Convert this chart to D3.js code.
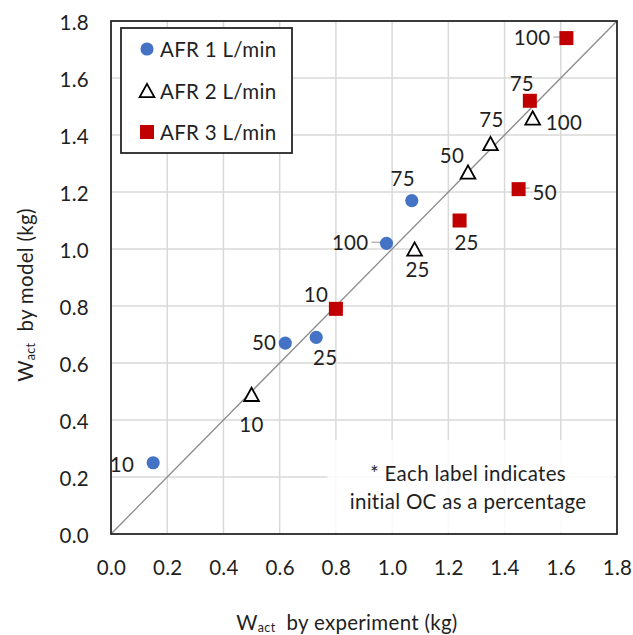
<!DOCTYPE html>
<html>
<head>
<meta charset="utf-8">
<script src="https://cdn.jsdelivr.net/npm/d3@7/dist/d3.min.js"></script>
<style>
  html, body { margin: 0; padding: 0; background: #fff; }
  svg { display: block; font-family: Lato, "Open Sans", sans-serif; letter-spacing: 0.3px; }
</style>
</head>
<body>
<svg id="chart" width="633" height="635"></svg>
<script>
// Initial OC (%) for each measured point
const ocLabels = [10, 25, 50, 75, 100];

// AFR 1 L/min
const afr1Exp   = [0.15, 0.73, 0.62, 1.07, 0.98];
const afr1Model = [0.25, 0.69, 0.67, 1.17, 1.02];

// AFR 2 L/min
const afr2Exp   = [0.50, 1.08, 1.27, 1.35, 1.50];
const afr2Model = [0.49, 1.00, 1.27, 1.37, 1.46];

// AFR 3 L/min
const afr3Exp   = [0.80, 1.24, 1.45, 1.49, 1.62];
const afr3Model = [0.79, 1.10, 1.21, 1.52, 1.74];

const seriesNames = ["AFR 1 L/min", "AFR 2 L/min", "AFR 3 L/min"];
const axisTicks = [0.0, 0.2, 0.4, 0.6, 0.8, 1.0, 1.2, 1.4, 1.6, 1.8];

// Label placement around each marker: [anchor, dx, dy, leader]
const labelPlace = [
  [["end", -19, 1, false], ["middle", 9, 20, false], ["end", -9, -1, false], ["middle", -9, -23, false], ["end", -18, -1, true]],
  [["middle", 0, 30, false], ["middle", 3, 20, false], ["middle", -16, -17, false], ["middle", 1, -25, false], ["start", 13, 4, false]],
  [["middle", -20, -15, false], ["middle", 7, 21, false], ["start", 14, 3, true], ["middle", -8, -18, false], ["end", -16, -1, true]]
];

const series = [
  { name: seriesNames[0], xs: afr1Exp, ys: afr1Model, shape: "circle",   fill: "#4472C4", stroke: "none" },
  { name: seriesNames[1], xs: afr2Exp, ys: afr2Model, shape: "triangle", fill: "#ffffff", stroke: "#000000" },
  { name: seriesNames[2], xs: afr3Exp, ys: afr3Model, shape: "square",   fill: "#C00000", stroke: "none" }
];

const svg = d3.select("#chart");
const plot = { left: 111, right: 617, top: 21, bottom: 534 };

const x = d3.scaleLinear().domain([0, 1.8]).range([plot.left, plot.right]);
const y = d3.scaleLinear().domain([0, 1.8]).range([plot.bottom, plot.top]);

const fontSize = 20.5;
const textColor = "#1f1f1f";

// Gridlines
const grid = svg.append("g");
grid.selectAll("line.gx").data(axisTicks.slice(1, -1)).join("line")
  .attr("x1", d => x(d)).attr("x2", d => x(d))
  .attr("y1", plot.top).attr("y2", plot.bottom)
  .attr("stroke", "#d9d9d9").attr("stroke-width", 1.5);
grid.selectAll("line.gy").data(axisTicks.slice(1, -1)).join("line")
  .attr("y1", d => y(d)).attr("y2", d => y(d))
  .attr("x1", plot.left).attr("x2", plot.right)
  .attr("stroke", "#d9d9d9").attr("stroke-width", 1.5);

// Axes (labels only; ticks hidden)
const xAxis = d3.axisBottom(x).tickValues(axisTicks).tickFormat(d3.format(".1f")).tickSize(0).tickPadding(0);
const yAxis = d3.axisLeft(y).tickValues(axisTicks).tickFormat(d3.format(".1f")).tickSize(0).tickPadding(0);

const gx = svg.append("g").attr("transform", `translate(0,${plot.bottom})`).call(xAxis);
gx.select(".domain").remove();
gx.selectAll("text").attr("y", 0).attr("dy", "0").attr("transform", "translate(0,33)")
  .attr("dominant-baseline", "central")
  .attr("font-size", fontSize).attr("font-family", "Lato, sans-serif").attr("fill", textColor);

const gy = svg.append("g").attr("transform", `translate(${plot.left},0)`).call(yAxis);
gy.select(".domain").remove();
gy.selectAll("text").attr("x", -22).attr("dy", "0")
  .attr("dominant-baseline", "central")
  .attr("font-size", fontSize).attr("font-family", "Lato, sans-serif").attr("fill", textColor);

// 1:1 reference line
svg.append("line")
  .attr("x1", x(0)).attr("y1", y(0)).attr("x2", x(1.8)).attr("y2", y(1.8))
  .attr("stroke", "#8c8c8c").attr("stroke-width", 1.3);

// Note box
const noteX = x(0.77), noteY = y(0.33);
svg.append("rect")
  .attr("x", noteX).attr("y", noteY)
  .attr("width", x(1.79) - noteX).attr("height", y(0.005) - noteY)
  .attr("fill", "#ffffff").attr("fill-opacity", 0.85);
const note = svg.append("text")
  .attr("text-anchor", "middle").attr("font-size", fontSize).attr("fill", textColor);
note.append("tspan").attr("x", x(1.27)).attr("y", y(0.215)).attr("dominant-baseline", "central")
  .text("* Each label indicates");
note.append("tspan").attr("x", x(1.27)).attr("y", y(0.117)).attr("dominant-baseline", "central")
  .text("initial OC as a percentage");

// Plot border
svg.append("rect")
  .attr("x", plot.left).attr("y", plot.top)
  .attr("width", plot.right - plot.left).attr("height", plot.bottom - plot.top)
  .attr("fill", "none").attr("stroke", "#262626").attr("stroke-width", 1.8);

// Marker drawing
function drawMarker(g, shape, cx, cy, s, fill, stroke) {
  if (shape === "circle") {
    g.append("circle").attr("cx", cx).attr("cy", cy).attr("r", s * 0.47)
      .attr("fill", fill);
  } else if (shape === "square") {
    g.append("rect").attr("x", cx - s / 2).attr("y", cy - s / 2)
      .attr("width", s).attr("height", s).attr("fill", fill);
  } else {
    const w = s * 1.05, h = s * 0.95;
    g.append("path")
      .attr("d", `M${cx},${cy - h / 2}L${cx + w / 2},${cy + h / 2}L${cx - w / 2},${cy + h / 2}Z`)
      .attr("fill", fill).attr("stroke", stroke).attr("stroke-width", 1.8)
      .attr("stroke-linejoin", "miter");
  }
}

// Data points and labels
series.forEach((s, si) => {
  const g = svg.append("g");
  s.xs.forEach((xv, i) => {
    const cx = x(xv), cy = y(s.ys[i]);
    const [anchor, dx, dy, leader] = labelPlace[si][i];
    if (leader) {
      const dir = anchor === "end" ? -1 : 1;
      g.append("line")
        .attr("x1", cx + dir * 5).attr("x2", cx + dx - dir * 3)
        .attr("y1", cy - 1).attr("y2", cy - 1)
        .attr("stroke", "#a6a6a6").attr("stroke-width", 1.2);
    }
    drawMarker(g, s.shape, cx, cy, 14, s.fill, s.stroke);
    g.append("text")
      .attr("x", cx + dx).attr("y", cy + dy)
      .attr("text-anchor", anchor).attr("dominant-baseline", "central")
      .attr("font-size", fontSize).attr("fill", textColor)
      .text(ocLabels[i]);
  });
});

// Legend
const legend = svg.append("g");
legend.append("rect")
  .attr("x", 121).attr("y", 28).attr("width", 171).attr("height", 125)
  .attr("fill", "#ffffff").attr("stroke", "#262626").attr("stroke-width", 1.8);
series.forEach((s, i) => {
  const ly = 49 + i * 41.5;
  drawMarker(legend, s.shape, 147, ly, 14, s.fill, s.stroke);
  legend.append("text")
    .attr("x", 160).attr("y", ly)
    .attr("dominant-baseline", "central")
    .attr("font-size", fontSize).attr("fill", textColor)
    .text(s.name);
});

// Axis titles with subscript
const xt = svg.append("text")
  .attr("x", 347).attr("y", 622)
  .attr("text-anchor", "middle").attr("dominant-baseline", "central")
  .attr("font-size", fontSize).attr("fill", textColor);
xt.append("tspan").text("W");
xt.append("tspan").attr("font-size", 12.5).attr("dy", 5).text("act");
xt.append("tspan").attr("dy", -5).text("\u00a0 by experiment (kg)");

const yt = svg.append("text")
  .attr("transform", "translate(25,295) rotate(-90)")
  .attr("text-anchor", "middle").attr("dominant-baseline", "central")
  .attr("font-size", fontSize).attr("fill", textColor);
yt.append("tspan").text("W");
yt.append("tspan").attr("font-size", 12.5).attr("dy", 5).text("act");
yt.append("tspan").attr("dy", -5).text("\u00a0 by model (kg)");
</script>
</body>
</html>
